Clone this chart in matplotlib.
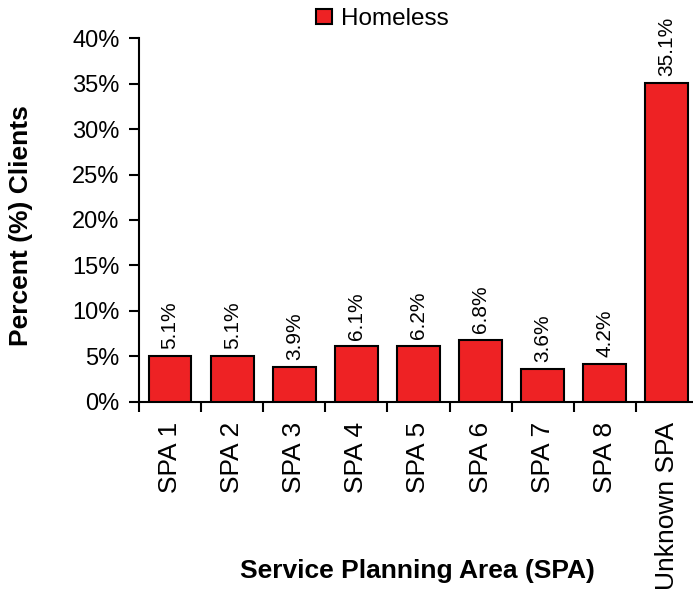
import matplotlib
matplotlib.use("Agg")
import matplotlib.pyplot as plt
from matplotlib.ticker import PercentFormatter

categories = ["SPA 1", "SPA 2", "SPA 3", "SPA 4", "SPA 5", "SPA 6", "SPA 7", "SPA 8", "Unknown SPA"]
homeless = [5.1, 5.1, 3.9, 6.1, 6.2, 6.8, 3.6, 4.2, 35.1]

plt.rcParams["font.family"] = ["Liberation Sans", "DejaVu Sans"]

fig = plt.figure(figsize=(6.93, 5.91), dpi=100)
ax = fig.add_axes([0.2006, 0.3198, 0.7994, 0.6159])

x = range(len(categories))
bars = ax.bar(x, homeless, width=0.69, color="#ee2224", edgecolor="black",
              linewidth=1.5, label="Homeless", zorder=3)
for xi, v in zip(x, homeless):
    ax.annotate(f"{v:.1f}%", (xi, v), xytext=(0, 5), textcoords="offset points",
                rotation=90, ha="center", va="bottom", fontsize=15)

ax.set_ylim(0, 40)
ax.set_xlim(-0.5, 8.42)
ax.yaxis.set_major_formatter(PercentFormatter(decimals=0))
ax.set_yticks(range(0, 41, 5))
ax.set_xticks([i - 0.5 for i in range(9)])
ax.set_xticklabels([])
ax.set_xticks(list(x), minor=True)
ax.set_xticklabels(categories, minor=True, rotation=90, fontsize=19)
ax.tick_params(axis="x", which="minor", length=0, pad=14)
ax.tick_params(axis="x", which="major", length=7, width=1.5)
ax.tick_params(axis="y", labelsize=17, length=7, width=1.5, pad=7)
for s in ["top", "right"]:
    ax.spines[s].set_visible(False)
for s in ["left", "bottom"]:
    ax.spines[s].set_linewidth(1.5)

fig.text(0.03, 0.619, "Percent (%) Clients", rotation=90, ha="center", va="center",
         fontsize=19, fontweight="bold")
fig.text(0.603, 0.022, "Service Planning Area (SPA)", ha="center", va="baseline",
         fontsize=19, fontweight="bold")
fig.legend(handles=[bars], labels=["Homeless"], loc="center left",
           bbox_to_anchor=(316 / 693, 1 - 19 / 591), frameon=False, fontsize=17.5,
           borderpad=0, borderaxespad=0, handlelength=0.66, handleheight=0.58,
           handletextpad=0.37)

fig.savefig("out.png", dpi=100)
